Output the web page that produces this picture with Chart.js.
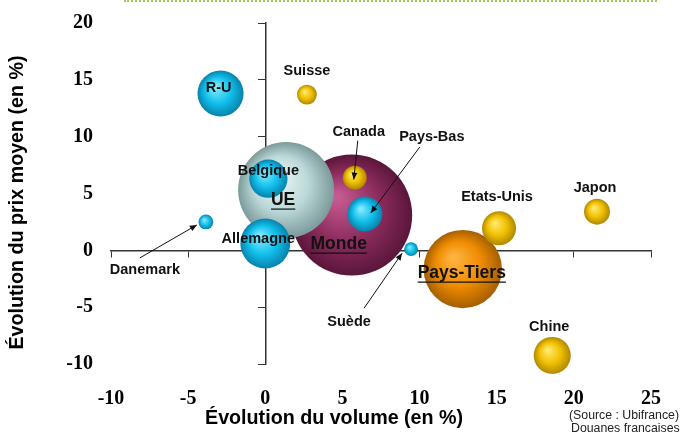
<!DOCTYPE html>
<html lang="fr">
<head>
<meta charset="UTF-8">
<title>Évolution du volume et du prix moyen</title>
<style>
  body { margin: 0; background: #fff; }
  #cadre { position: relative; width: 680px; height: 432px; }
  .filet { position: absolute; top: 0; left: 124px; width: 533px; border-top: 2px dotted #9bcf4a; }
</style>
</head>
<body>
<div id="cadre">
  <div class="filet"></div>
  <canvas id="bulles" width="680" height="432"></canvas>
</div>

<script src="https://cdn.jsdelivr.net/npm/chart.js"></script>
<script>
// Données
const pays    = ['Monde', 'UE', 'Pays-Tiers', 'Allemagne', 'Belgique', 'R-U', 'Pays-Bas',
                 'Danemark', 'Suède', 'Suisse', 'Canada', 'Etats-Unis', 'Japon', 'Chine'];
const volume  = [5.6, 1.35, 12.8, 0.0, 0.2, -2.9, 6.45, -3.85, 9.45, 2.7, 5.8, 15.15, 21.5, 18.6];
const prix    = [3.1, 5.3, -1.65, 0.6, 6.3, 13.8, 3.2, 2.5, 0.1, 13.7, 6.4, 1.95, 3.4, -9.25];
const poids   = [100, 63, 42, 17, 10, 14.5, 8.4, 1.5, 1.3, 2.7, 3.9, 7.9, 4.6, 9.4];
const groupes = ['monde', 'ue', 'tiers', 'ue-pays', 'ue-pays', 'ue-pays', 'ue-pays',
                 'ue-pays', 'ue-pays', 'hors-ue', 'hors-ue', 'hors-ue', 'hors-ue', 'hors-ue'];
const ticksX  = [-10, -5, 0, 5, 10, 15, 20, 25];
const ticksY  = [-10, -5, 0, 5, 10, 15, 20];

// Style
const RAYON_MAX = 60.5; // rayon de la bulle de poids 100
const teintes = {
  'ue-pays': ['#86ebff', '#12c0ec', '#0782ab'],
  'hors-ue': ['#ffe970', '#f0c000', '#b08800'],
  'monde':   ['#c65a90', '#8c2c5e', '#5a163a'],
  'ue':      ['#eef9f9', '#bcd8d8', '#7c9a9a'],
  'tiers':   ['#ffb340', '#f08c00', '#a45f00']
};
// décalages des étiquettes par rapport au centre de la bulle (px)
const styleEtiquettes = [
  { dx: -13, dy: 29, grand: true },                 // Monde
  { dx: -3, dy: 10, grand: true },                  // UE
  { dx: -1, dy: 4, grand: true },                   // Pays-Tiers
  { dx: -7, dy: -5 },                               // Allemagne
  { dx: 0, dy: -8 },                                // Belgique
  { dx: -2, dy: -5 },                               // R-U
  { dx: 67, dy: -77, fleche: [55, -67, 6, -1] },    // Pays-Bas
  { dx: -61, dy: 48, fleche: [-66, 36, -9, 3] },    // Danemark
  { dx: -62, dy: 73, fleche: [-47, 59, -9, 4] },    // Suède
  { dx: 0, dy: -24 },                               // Suisse
  { dx: 4, dy: -46, fleche: [3, -37, -1, 2] },      // Canada
  { dx: -2, dy: -31 },                              // Etats-Unis
  { dx: -2, dy: -24 },                              // Japon
  { dx: -3, dy: -28 }                               // Chine
];

const SANS = "'Liberation Sans', Arial, sans-serif";
const SERIF = "'Liberation Serif', 'Times New Roman', serif";

const points = pays.map((p, i) => ({
  x: volume[i],
  y: prix[i],
  r: RAYON_MAX * Math.sqrt(poids[i] / 100)
}));

function degrade(ctx) {
  const c = ctx.chart;
  const pt = ctx.raw;
  if (!pt || !c.chartArea) return '#ccc';
  const px = c.scales.x.getPixelForValue(pt.x);
  const py = c.scales.y.getPixelForValue(pt.y);
  const r = pt.r;
  const t = teintes[groupes[ctx.dataIndex]];
  const g = c.ctx.createRadialGradient(px - r * 0.25, py - r * 0.3, r * 0.05, px, py, r);
  g.addColorStop(0, t[0]);
  g.addColorStop(0.55, t[1]);
  g.addColorStop(1, t[2]);
  return g;
}

function ticksFixes(valeurs) {
  return scale => { scale.ticks = valeurs.map(v => ({ value: v })); };
}

// textes : étiquettes, flèches, titres des axes et source
const textes = {
  id: 'textes',
  afterDatasetsDraw(chart) {
    const ctx = chart.ctx;
    const meta = chart.getDatasetMeta(0);
    ctx.save();
    ctx.fillStyle = '#111';
    ctx.strokeStyle = '#111';
    meta.data.forEach((el, i) => {
      const s = styleEtiquettes[i];
      const tx = el.x + s.dx, ty = el.y + s.dy;
      ctx.font = 'bold ' + (s.grand ? 17.5 : 14.5) + 'px ' + SANS;
      ctx.textAlign = 'center';
      ctx.textBaseline = 'middle';
      ctx.fillText(pays[i], tx, ty);
      if (s.grand) {
        const w = ctx.measureText(pays[i]).width;
        ctx.lineWidth = 1.2;
        ctx.beginPath();
        ctx.moveTo(tx - w / 2, ty + 9);
        ctx.lineTo(tx + w / 2, ty + 9);
        ctx.stroke();
      }
      if (s.fleche) {
        const x1 = el.x + s.fleche[0], y1 = el.y + s.fleche[1];
        const x2 = el.x + s.fleche[2], y2 = el.y + s.fleche[3];
        const a = Math.atan2(y2 - y1, x2 - x1);
        ctx.lineWidth = 1;
        ctx.beginPath();
        ctx.moveTo(x1, y1);
        ctx.lineTo(x2, y2);
        ctx.stroke();
        ctx.beginPath();
        ctx.moveTo(x2, y2);
        ctx.lineTo(x2 - 7 * Math.cos(a) + 3 * Math.sin(a), y2 - 7 * Math.sin(a) - 3 * Math.cos(a));
        ctx.lineTo(x2 - 7 * Math.cos(a) - 3 * Math.sin(a), y2 - 7 * Math.sin(a) + 3 * Math.cos(a));
        ctx.closePath();
        ctx.fill();
      }
    });

    const area = chart.chartArea;
    ctx.fillStyle = '#000';
    ctx.font = 'bold 19.7px ' + SANS;
    ctx.textAlign = 'left';
    ctx.textBaseline = 'middle';
    ctx.fillText('Évolution du volume (en %)', area.left + 94, area.bottom + 55);

    // titre de l'axe Y, légèrement sous le milieu comme sur l'original
    ctx.save();
    ctx.translate(18, (area.top + area.bottom) / 2 + 9);
    ctx.rotate(-Math.PI / 2);
    ctx.textAlign = 'center';
    ctx.fillText('Évolution du prix moyen (en %)', 0, 0);
    ctx.restore();

    ctx.font = '12.3px ' + SANS;
    ctx.fillStyle = '#222';
    ctx.fillText('(Source : Ubifrance)', area.right - 82, area.bottom + 52);
    ctx.fillText('Douanes françaises', area.right - 80, area.bottom + 65);
    ctx.restore();
  }
};

new Chart(document.getElementById('bulles'), {
  type: 'bubble',
  data: {
    datasets: [{
      data: points,
      xAxisID: 'x',
      yAxisID: 'y',
      backgroundColor: degrade,
      borderWidth: 0,
      clip: false
    }]
  },
  options: {
    responsive: false,
    animation: false,
    events: [],
    layout: { autoPadding: false, padding: { top: 23, right: 29, left: 0, bottom: 0 } },
    plugins: { legend: { display: false }, tooltip: { enabled: false } },
    scales: {
      x: {
        type: 'linear', position: 'bottom', min: -10, max: 25,
        afterBuildTicks: ticksFixes(ticksX),
        afterFit: s => { s.height = 68; s.paddingLeft = 0; s.paddingRight = 0; },
        ticks: { padding: 23, color: '#000', font: { family: SERIF, size: 20, weight: 'bold' } },
        grid: { display: false, drawTicks: false },
        border: { display: false }
      },
      y: {
        type: 'linear', position: 'left', min: -10, max: 20,
        afterBuildTicks: ticksFixes(ticksY),
        afterFit: s => { s.width = 111; s.paddingTop = 0; s.paddingBottom = 0; },
        ticks: { padding: 18, color: '#000', font: { family: SERIF, size: 20, weight: 'bold' } },
        grid: { display: false, drawTicks: false },
        border: { display: false }
      },
      axeX: {
        axis: 'x', type: 'linear', position: { y: 0 }, min: -10, max: 25,
        afterBuildTicks: ticksFixes(ticksX),
        ticks: { display: false },
        grid: { drawOnChartArea: false, tickLength: 6, color: '#333', lineWidth: 1 },
        border: { color: '#333', width: 1.5 }
      },
      axeY: {
        axis: 'y', type: 'linear', position: { x: 0 }, min: -10, max: 20,
        afterBuildTicks: ticksFixes(ticksY),
        ticks: { display: false },
        grid: { drawOnChartArea: false, tickLength: 7, color: '#333', lineWidth: 1 },
        border: { color: '#333', width: 1.5 }
      }
    }
  },
  plugins: [textes]
});
</script>
</body>
</html>
